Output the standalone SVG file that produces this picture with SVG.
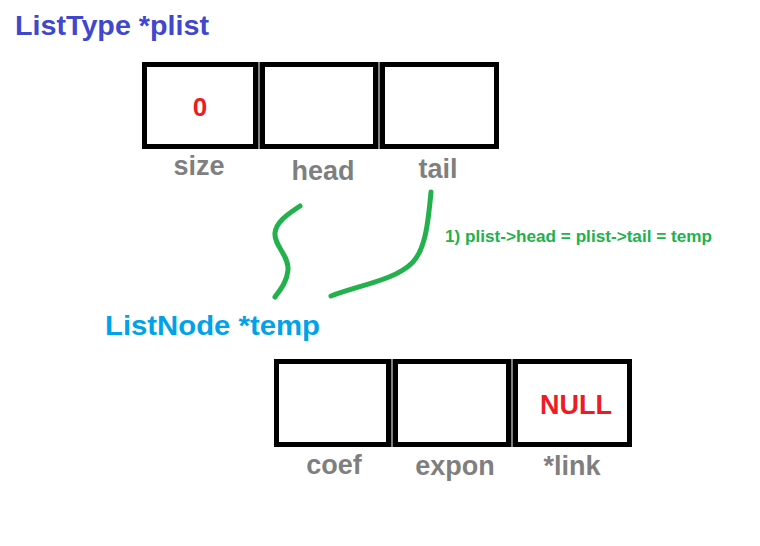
<svg xmlns="http://www.w3.org/2000/svg" width="760" height="546" viewBox="0 0 760 546">
<style>
.t{font-family:"Liberation Sans",Arial,sans-serif;font-weight:bold}
.box{fill:#fff;stroke:#000;stroke-width:5}
.sep{stroke:#808080;stroke-width:2}
.lbl{fill:#7f7f7f;font-size:27px;text-anchor:middle}
.val{fill:#ed1c24;text-anchor:middle}
.wire{fill:none;stroke:#22b14c;stroke-width:5;stroke-linecap:round;stroke-linejoin:round}
</style>
<rect width="760" height="546" fill="#fff"/>
<g id="plist">
<text class="t" x="15" y="35" font-size="28" fill="#3f48cc" textLength="194" lengthAdjust="spacingAndGlyphs">ListType *plist</text>
<rect class="box" x="144.5" y="64.5" width="111" height="82"/>
<rect class="box" x="262.5" y="64.5" width="113" height="82"/>
<rect class="box" x="382.5" y="64.5" width="114" height="82"/>
<line class="sep" x1="259" y1="62" x2="259" y2="149"/>
<line class="sep" x1="379" y1="62" x2="379" y2="149"/>
<text class="t val" x="200" y="116" font-size="26">0</text>
<text class="t lbl" x="199" y="175">size</text>
<text class="t lbl" x="323" y="180">head</text>
<text class="t lbl" x="438" y="178">tail</text>
</g>
<g id="temp">
<text class="t" x="105" y="335" font-size="27" fill="#00a2e8" textLength="215" lengthAdjust="spacingAndGlyphs">ListNode *temp</text>
<rect class="box" x="276.5" y="361.5" width="112" height="83"/>
<rect class="box" x="395.5" y="361.5" width="113" height="83"/>
<rect class="box" x="515.5" y="361.5" width="114" height="83"/>
<line class="sep" x1="392" y1="359" x2="392" y2="447"/>
<line class="sep" x1="512" y1="359" x2="512" y2="447"/>
<text class="t val" x="576" y="414" font-size="27" textLength="72" lengthAdjust="spacingAndGlyphs">NULL</text>
<text class="t lbl" x="334" y="474">coef</text>
<text class="t lbl" x="455" y="475">expon</text>
<text class="t lbl" x="572" y="475">*link</text>
</g>
<g id="connectors">
<path class="wire" d="M300,206 C290,213 276,221 275,233 C274,246 289,255 288,270 C287,282 280,290 275,297"/>
<path class="wire" d="M431,192 C428,225 425,250 412,263 C395,280 360,285 331,296"/>
<text class="t" x="445" y="242" font-size="17" fill="#22b14c" textLength="267" lengthAdjust="spacingAndGlyphs">1) plist-&gt;head = plist-&gt;tail = temp</text>
</g>
</svg>
